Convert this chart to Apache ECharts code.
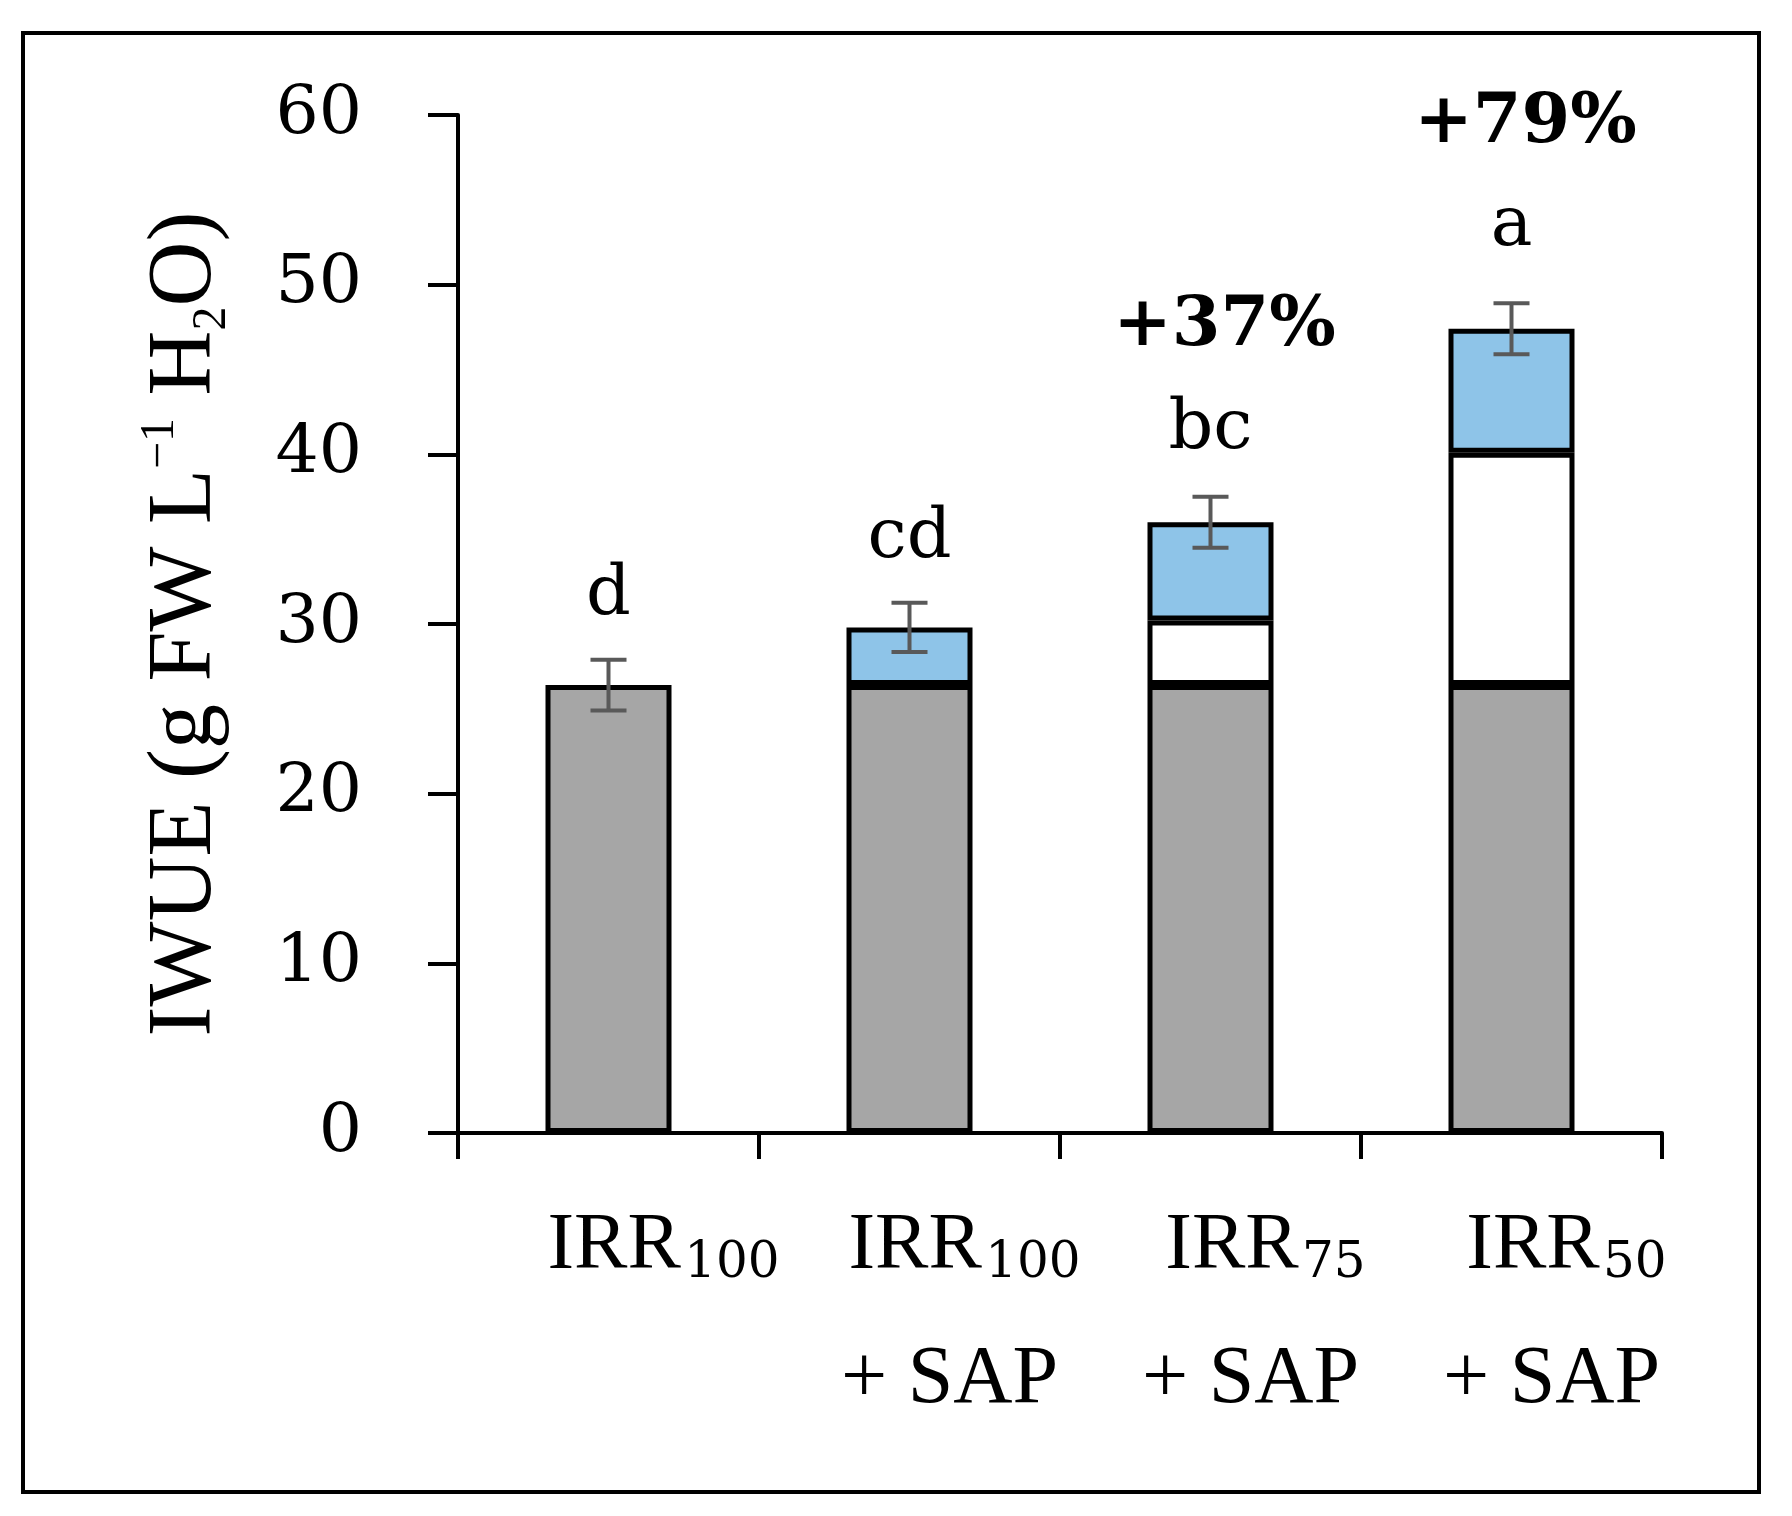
<!DOCTYPE html>
<html><head><meta charset="utf-8">
<script src="https://cdn.jsdelivr.net/npm/echarts@6/dist/echarts.min.js"></script>
<style>html,body{margin:0;padding:0;background:#fff}#c{width:1792px;height:1516px}</style>
</head><body><div id="c"></div>
<script>
const categories = ['IRR100', 'IRR100 + SAP', 'IRR75 + SAP', 'IRR50 + SAP'];
const catMain = ['IRR', 'IRR', 'IRR', 'IRR'];
const catSub = ['100', '100', '75', '50'];
const catLine2 = ['', '+ SAP', '+ SAP', '+ SAP'];
const baseValues = [26.4, 26.4, 26.4, 26.4];
const deficitGain = [null, null, 3.8, 13.7];
const sapGain = [null, 3.4, 5.8, 7.3];
const errors = [1.5, 1.45, 1.5, 1.5];
const letters = ['d', 'cd', 'bc', 'a'];
const increases = ['', '', '+37%', '+79%'];
const yTicks = [0, 10, 20, 30, 40, 50, 60];

const totals = baseValues.map((b, i) => b + (deficitGain[i] || 0) + (sapGain[i] || 0));

const chart = echarts.init(document.getElementById('c'), null, {renderer: 'canvas'});
const serif = 'Liberation Serif';
const serif2 = 'DejaVu Serif';

const barCommon = {
  type: 'bar', stack: 'iwue', barWidth: 126,
  itemStyle: {borderColor: '#000', borderWidth: 5}
};

chart.setOption({
  animation: false,
  backgroundColor: '#fff',
  grid: {left: 458, right: 130, top: 115, bottom: 383, containLabel: false},
  graphic: [{
    type: 'rect', shape: {x: 23, y: 33, width: 1736, height: 1459},
    style: {fill: 'none', stroke: '#000', lineWidth: 4}, silent: true, z: 100
  }],
  xAxis: {
    type: 'category', data: categories,
    axisLine: {show: true, lineStyle: {color: '#000', width: 4}},
    axisTick: {show: true, inside: false, length: 26, lineStyle: {color: '#000', width: 4}},
    axisLabel: {
      interval: 0, margin: 72, color: '#000', padding: [0, 0, 0, 110],
      formatter: (v, i) => `{m|${catMain[i]}} {s|${catSub[i]}}` + (catLine2[i] ? `\n{l|${catLine2[i]}}` : ''),
      rich: {
        m: {fontFamily: serif, fontSize: 80, lineHeight: 84, color: '#000'},
        s: {fontFamily: serif2, fontSize: 50, lineHeight: 58, verticalAlign: 'bottom', color: '#000'},
        l: {fontFamily: serif, fontSize: 82, lineHeight: 182, color: '#000', padding: [0, 30, 0, 0]}
      }
    },
    splitLine: {show: false}
  },
  yAxis: {
    type: 'value', min: yTicks[0], max: yTicks[yTicks.length - 1], interval: 10,
    axisLine: {show: true, lineStyle: {color: '#000', width: 4}},
    axisTick: {show: true, inside: false, length: 30, lineStyle: {color: '#000', width: 4}},
    axisLabel: {color: '#000', fontFamily: serif2, fontSize: 68, margin: 96},
    splitLine: {show: false},
    name: '{t|IWUE (g FW L}{sup|−1}{t| H}{sub|2}{t|O)}',
    nameLocation: 'middle', nameRotate: 90, nameGap: 222,
    nameTextStyle: {
      rich: {
        t: {fontFamily: serif, fontSize: 90, lineHeight: 100, color: '#000'},
        sup: {fontFamily: serif, fontSize: 48, lineHeight: 70, verticalAlign: 'top', color: '#000'},
        sub: {fontFamily: serif, fontSize: 48, lineHeight: 60, verticalAlign: 'bottom', color: '#000'}
      }
    }
  },
  series: [
    Object.assign({}, barCommon, {name: 'IRR100', data: baseValues, itemStyle: Object.assign({}, barCommon.itemStyle, {color: '#a6a6a6'})}),
    Object.assign({}, barCommon, {name: 'Deficit irrigation gain', data: deficitGain, itemStyle: Object.assign({}, barCommon.itemStyle, {color: '#ffffff'})}),
    Object.assign({}, barCommon, {name: 'SAP gain', data: sapGain, itemStyle: Object.assign({}, barCommon.itemStyle, {color: '#8ec4e8'})}),
    {
      type: 'custom', name: 'SE', z: 10,
      encode: {x: 0, y: 1},
      data: totals.map((t, i) => [i, t, errors[i]]),
      renderItem: (params, api) => {
        const x = api.value(0), y = api.value(1), e = api.value(2);
        const top = api.coord([x, y + e]);
        const bot = api.coord([x, y - e]);
        const hw = 18;
        const st = {stroke: '#595959', lineWidth: 4};
        return {type: 'group', children: [
          {type: 'line', shape: {x1: top[0], y1: top[1], x2: bot[0], y2: bot[1]}, style: st},
          {type: 'line', shape: {x1: top[0] - hw, y1: top[1], x2: top[0] + hw, y2: top[1]}, style: st},
          {type: 'line', shape: {x1: bot[0] - hw, y1: bot[1], x2: bot[0] + hw, y2: bot[1]}, style: st}
        ]};
      }
    },
    {
      type: 'scatter', name: 'labels', symbolSize: 0, z: 11,
      itemStyle: {opacity: 1},
      data: totals.map((t, i) => ({value: [i, t], label: {distance: i === 3 ? 66 : (i === 2 ? 56 : 53)}})),
      label: {
        show: true, position: 'top', align: 'center', verticalAlign: 'bottom', color: '#000', opacity: 1,
        formatter: (p) => (increases[p.dataIndex] ? `{p|${increases[p.dataIndex]}}\n` : '') + `{l|${letters[p.dataIndex]}}`,
        rich: {
          p: {fontFamily: serif2, fontWeight: 'bold', fontSize: 70, lineHeight: 134, color: '#000', padding: [0, 0, 0, 28]},
          l: {fontFamily: serif2, fontSize: 70, lineHeight: 72, color: '#000'}
        }
      }
    }
  ]
});
</script></body></html>
